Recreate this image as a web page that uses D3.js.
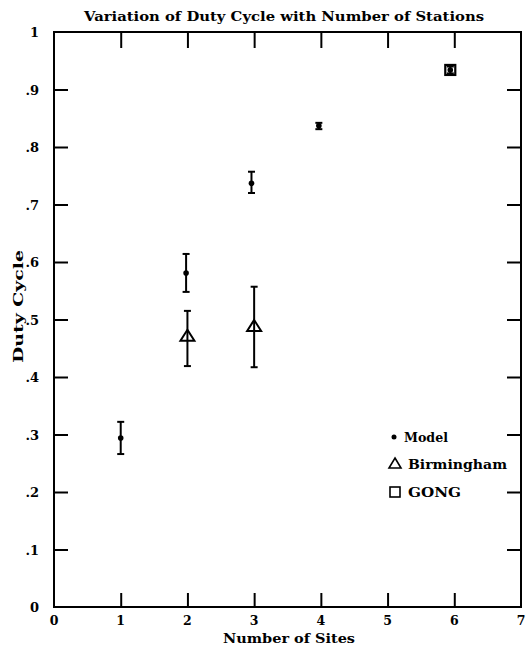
<!DOCTYPE html>
<html><head><meta charset="utf-8">
<script src="https://cdn.jsdelivr.net/npm/d3@7"></script>
<style>body{margin:0;background:#fff}svg{display:block}text{font-family:"DejaVu Serif",serif;font-weight:bold;fill:#000}</style>
</head><body><svg id="c" width="531" height="645"></svg>
<script>
// Data
const modelX = [1, 1.98, 2.96, 3.97, 5.94];
const modelY = [0.294, 0.581, 0.737, 0.837, 0.934];
const modelLo = [0.266, 0.548, 0.720, 0.831, 0.928];
const modelHi = [0.322, 0.614, 0.757, 0.842, 0.940];
const birmX = [2, 3];
const birmY = [0.47, 0.487];
const birmLo = [0.419, 0.417];
const birmHi = [0.515, 0.557];
const gongX = [5.94];
const gongY = [0.934];
const xTicks = [0,1,2,3,4,5,6,7];
const yTicks = [0,0.1,0.2,0.3,0.4,0.5,0.6,0.7,0.8,0.9,1];
const yTickLabels = ["0",".1",".2",".3",".4",".5",".6",".7",".8",".9","1"];
const legendLabels = ["Model","Birmingham","GONG"];

const svg = d3.select("#c");
const L=54, R=521, T=32, B=607;
const x = d3.scaleLinear().domain([0,7]).range([L,R]);
const y = d3.scaleLinear().domain([0,1]).range([B,T]);

// frame
svg.append("rect").attr("x",L).attr("y",T).attr("width",R-L).attr("height",B-T)
  .attr("fill","none").attr("stroke","#000").attr("stroke-width",2);

// ticks (inward) via axes
const ax = (g)=>g.selectAll(".domain").remove();
svg.append("g").attr("transform",`translate(0,${B})`)
  .call(d3.axisBottom(x).tickValues(xTicks.slice(1,-1)).tickSize(-14).tickFormat(""))
  .call(ax).selectAll("line").attr("stroke-width",2);
svg.append("g").attr("transform",`translate(0,${T})`)
  .call(d3.axisTop(x).tickValues(xTicks.slice(1,-1)).tickSize(-16).tickFormat(""))
  .call(ax).selectAll("line").attr("stroke-width",2);
svg.append("g").attr("transform",`translate(${L},0)`)
  .call(d3.axisLeft(y).tickValues(yTicks.slice(1,-1)).tickSize(-14).tickFormat(""))
  .call(ax).selectAll("line").attr("stroke-width",2);
svg.append("g").attr("transform",`translate(${R},0)`)
  .call(d3.axisRight(y).tickValues(yTicks.slice(1,-1)).tickSize(-14).tickFormat(""))
  .call(ax).selectAll("line").attr("stroke-width",2);

// tick labels
svg.append("g").selectAll("text").data(xTicks).join("text")
  .attr("x",d=>x(d)).attr("y",B+18).attr("text-anchor","middle")
  .attr("font-size",12.5).text(d=>d);
svg.append("g").selectAll("text").data(yTicks).join("text")
  .attr("x",L-15).attr("y",d=>y(d)+5).attr("text-anchor","end")
  .attr("font-size",13).text((d,i)=>yTickLabels[i]);

// titles
svg.append("text").attr("x",84).attr("y",21)
  .attr("font-size",13.5).attr("textLength",400).attr("lengthAdjust","spacingAndGlyphs")
  .text("Variation of Duty Cycle with Number of Stations");
svg.append("text").attr("x",223).attr("y",643)
  .attr("font-size",13).attr("textLength",132).attr("lengthAdjust","spacingAndGlyphs")
  .text("Number of Sites");
svg.append("text").attr("transform","translate(23,363) rotate(-90)")
  .attr("font-size",13.5).attr("textLength",113).attr("lengthAdjust","spacingAndGlyphs")
  .text("Duty Cycle");

// error bars
function errbars(xs,lo,hi){
  const g=svg.append("g").attr("stroke","#000").attr("stroke-width",2);
  xs.forEach((xv,i)=>{
    g.append("line").attr("x1",x(xv)).attr("x2",x(xv)).attr("y1",y(lo[i])).attr("y2",y(hi[i]));
    g.append("line").attr("x1",x(xv)-3.5).attr("x2",x(xv)+3.5).attr("y1",y(lo[i])).attr("y2",y(lo[i]));
    g.append("line").attr("x1",x(xv)-3.5).attr("x2",x(xv)+3.5).attr("y1",y(hi[i])).attr("y2",y(hi[i]));
  });
}
errbars(modelX,modelLo,modelHi);
errbars(birmX,birmLo,birmHi);

// model points
svg.append("g").selectAll("circle").data(modelX).join("circle")
  .attr("cx",d=>x(d)).attr("cy",(d,i)=>y(modelY[i])).attr("r",2.8).attr("fill","#000");

// triangles
const tri = (cx,cy)=>`M${cx},${cy-7}L${cx+7},${cy+4}L${cx-7},${cy+4}Z`;
svg.append("g").selectAll("path").data(birmX).join("path")
  .attr("d",(d,i)=>tri(x(d),y(birmY[i]))).attr("fill","none").attr("stroke","#000").attr("stroke-width",2);

// GONG squares
svg.append("g").selectAll("rect").data(gongX).join("rect")
  .attr("x",d=>x(d)-5).attr("y",(d,i)=>y(gongY[i])-5).attr("width",10).attr("height",10)
  .attr("fill","none").attr("stroke","#000").attr("stroke-width",2.2);

// legend
const lg = svg.append("g");
const ly = [437,464,492];
const lw = [44,99,53];
lg.append("circle").attr("cx",394).attr("cy",ly[0]).attr("r",2.5).attr("fill","#000");
lg.append("path").attr("d",`M395,${ly[1]-6}L401,${ly[1]+4}L389,${ly[1]+4}Z`).attr("fill","none").attr("stroke","#000").attr("stroke-width",1.6);
lg.append("rect").attr("x",390).attr("y",ly[2]-5).attr("width",10).attr("height",10).attr("fill","none").attr("stroke","#000").attr("stroke-width",1.6);
lg.selectAll("text").data(legendLabels).join("text")
  .attr("x",(d,i)=>i===0?404:408).attr("y",(d,i)=>ly[i]+4.5).attr("font-size",13)
  .attr("textLength",(d,i)=>lw[i]).attr("lengthAdjust","spacingAndGlyphs").text(d=>d);
</script></body></html>
